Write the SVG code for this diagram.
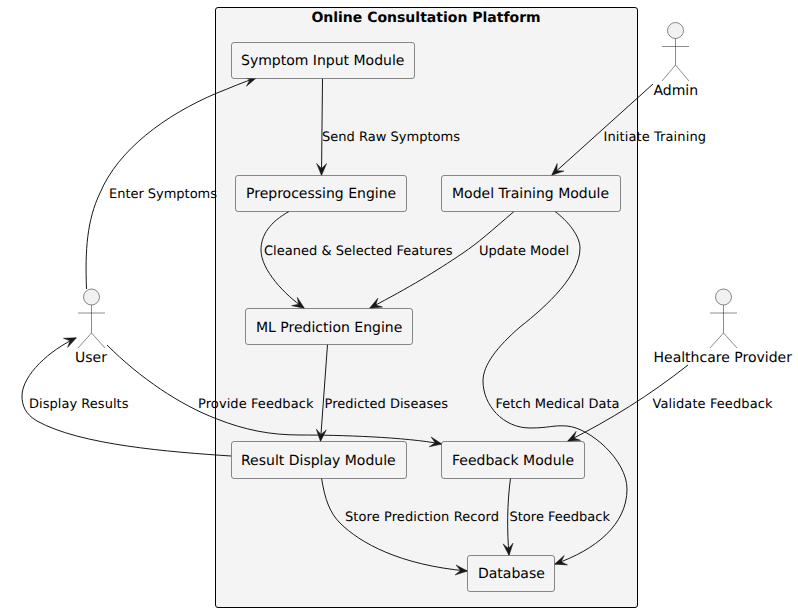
<svg xmlns="http://www.w3.org/2000/svg" width="798" height="612" viewBox="0 0 798 612">
<style>
text{font-family:"DejaVu Sans",sans-serif;fill:#000;text-rendering:geometricPrecision}
.n{font-size:14px}
.l{font-size:13px}
.t{font-size:14px;font-weight:bold}
.box rect{fill:#F4F4F4;stroke:#181818;stroke-width:.5}
.actor circle{fill:#F1F1F1;stroke:#181818;stroke-width:.5}
.actor path{fill:none;stroke:#181818;stroke-width:.5}
.e{fill:none;stroke:#181818;stroke-width:1;marker-end:url(#a)}
</style>
<defs>
<marker id="a" markerUnits="userSpaceOnUse" markerWidth="14" markerHeight="12" refX="12.500" refY="6" orient="auto" viewBox="0 0 14 12" overflow="visible">
<path d="M13,6 L1,1 L6,6 L1,11 Z" fill="#181818" stroke="#181818" stroke-width=".5"/>
</marker>
</defs>
<rect width="798" height="612" fill="#fff"/>
<g id="cluster">
<rect x="215.5" y="7.5" width="422" height="600" rx="2.5" fill="#F4F4F4" stroke="#000" stroke-width="1"/>
<text class="t" x="426" y="22" text-anchor="middle">Online Consultation Platform</text>
</g>
<g id="connectors">
<path class="e" d="M86.5,289 C85,250 87,220 100,193 C118,150 165,115 217,93 C230,88 243,82 256,78"/>
<path class="e" d="M322.5,78.5 L321.5,175"/>
<path class="e" d="M289,211.5 C270,222 261,235 261,250 C261,270 285,295 304,308"/>
<path class="e" d="M514,211.5 C490,232 478,243 463,253 C435,272 410,287 370,308"/>
<path class="e" d="M555,211.5 C568,221 580,236 580,248 C580,275 548,305 520,327 C497,347 483,365 483,381 C483,405 503,428 530,428 C550,428 552,425 567,426 C590,428 627,460 627,489 C627,525 595,550 555,564"/>
<path class="e" d="M653,84 L552,175"/>
<path class="e" d="M327.5,344.5 L320.5,441"/>
<path class="e" d="M107,345 C140,378 180,405 217,419 C245,430 270,435 300,435 C340,435 405,437 441.5,444"/>
<path class="e" d="M231,456 C170,452 80,445 37,421 C25,414 22,405 22,396 C22,375 50,350 76,338"/>
<path class="e" d="M688,365 C650,395 610,420 568,441"/>
<path class="e" d="M321.5,478 C325,500 330,513 340,523 C360,543 400,565 467,571"/>
<path class="e" d="M510.5,478 C507,505 507,530 509,555"/>
</g>
<g id="edge-labels">
<text class="l" x="109" y="198" textLength="108">Enter Symptoms</text>
<text class="l" x="322" y="141" textLength="138">Send Raw Symptoms</text>
<text class="l" x="264" y="255" textLength="188.500">Cleaned &amp; Selected Features</text>
<text class="l" x="479" y="255" textLength="90">Update Model</text>
<text class="l" x="603.500" y="141" textLength="102.500">Initiate Training</text>
<text class="l" x="29" y="408" textLength="99.500">Display Results</text>
<text class="l" x="198" y="408" textLength="115.500">Provide Feedback</text>
<text class="l" x="324.500" y="408" textLength="123.500">Predicted Diseases</text>
<text class="l" x="495.500" y="408" textLength="124">Fetch Medical Data</text>
<text class="l" x="652.500" y="408" textLength="120">Validate Feedback</text>
<text class="l" x="345" y="521" textLength="154">Store Prediction Record</text>
<text class="l" x="509.500" y="521" textLength="100.500">Store Feedback</text>
</g>
<g id="symptom" class="box"><rect x="231.5" y="42.5" width="183" height="36" rx="2.5"/><text class="n" x="241" y="65">Symptom Input Module</text></g>
<g id="preprocessing" class="box"><rect x="235.5" y="175.5" width="171" height="36" rx="2.5"/><text class="n" x="246" y="198">Preprocessing Engine</text></g>
<g id="training" class="box"><rect x="441.5" y="175.5" width="179" height="36" rx="2.5"/><text class="n" x="452" y="198">Model Training Module</text></g>
<g id="prediction" class="box"><rect x="245.5" y="308.5" width="167" height="36" rx="2.5"/><text class="n" x="256" y="332">ML Prediction Engine</text></g>
<g id="result" class="box"><rect x="231.5" y="441.5" width="175" height="37" rx="2.5"/><text class="n" x="241" y="465">Result Display Module</text></g>
<g id="feedback" class="box"><rect x="441.5" y="441.5" width="143" height="37" rx="2.5"/><text class="n" x="452" y="465">Feedback Module</text></g>
<g id="database" class="box"><rect x="467.5" y="555.5" width="87" height="36" rx="2.5"/><text class="n" x="478" y="578">Database</text></g>
<g id="user" class="actor"><circle cx="91.5" cy="297" r="8"/><path d="M91.5,305V333M78,313H105M91.5,333L78,348M91.5,333L105,348"/><text class="n" x="75" y="362">User</text></g>
<g id="admin" class="actor"><circle cx="675.5" cy="30.5" r="8"/><path d="M675.5,38.5V65M662,46.500H689M675.500,65L662,81M675.500,65L689,81"/><text class="n" x="653.500" y="95">Admin</text></g>
<g id="provider" class="actor"><circle cx="723.5" cy="297" r="8"/><path d="M723.5,305V333M710,313H737M723.5,333L710,348M723.5,333L737,348"/><text class="n" x="653.500" y="362">Healthcare Provider</text></g>
</svg>
